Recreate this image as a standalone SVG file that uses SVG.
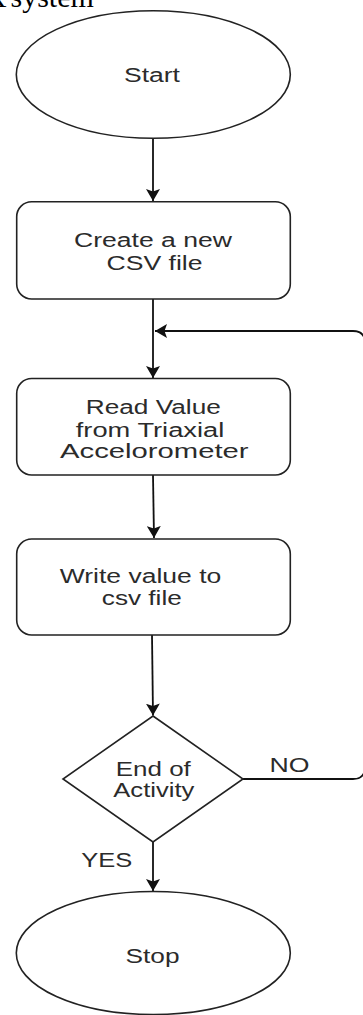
<svg xmlns="http://www.w3.org/2000/svg" width="363" height="1015" viewBox="0 0 363 1015">
<style>
.shape{fill:#ffffff;stroke:#222222;stroke-width:1.6}
.conn{fill:none;stroke:#111111;stroke-width:1.8}
.lbl{font-family:"Liberation Sans",Arial,sans-serif;font-size:20px;fill:#2b2b2b;text-anchor:middle}
.cap{font-family:"Liberation Serif","Times New Roman",serif;font-size:30px;fill:#000000}
</style>
<defs>
<marker id="arr" viewBox="0 0 12 14" refX="12" refY="7" markerWidth="12" markerHeight="14" markerUnits="userSpaceOnUse" orient="auto">
<path d="M0,0 L12,7 L0,14 L2.5,7 z" fill="#111111"/>
</marker>
</defs>
<rect width="363" height="1015" fill="#ffffff"/>
<text class="cap" y="7"><tspan x="-15">X</tspan><tspan x="10.5">system</tspan></text>
<g id="connectors">
<path class="conn" d="M153,138.5 V201" marker-end="url(#arr)"/>
<path class="conn" d="M153,299 V378" marker-end="url(#arr)"/>
<path class="conn" d="M153,475 L154,538" marker-end="url(#arr)"/>
<path class="conn" d="M152,635 L153,715.5" marker-end="url(#arr)"/>
<path class="conn" d="M153,842 V891" marker-end="url(#arr)"/>
<path class="conn" d="M243,779 H353 Q365,779 365,767 V343 Q365,331 353,331 H155" marker-end="url(#arr)"/>
<text class="lbl" x="289.5" y="771.5" font-size="21" textLength="40" lengthAdjust="spacingAndGlyphs">NO</text>
<text class="lbl" x="106.7" y="867.3" textLength="51" lengthAdjust="spacingAndGlyphs">YES</text>
</g>
<g id="start">
<ellipse class="shape" cx="153.3" cy="74.5" rx="137" ry="63.8"/>
<text class="lbl" x="152" y="82.3" font-size="22" textLength="56" lengthAdjust="spacingAndGlyphs">Start</text>
</g>
<g id="create">
<rect class="shape" x="16.7" y="201.7" width="273.6" height="97.3" rx="15" ry="15"/>
<text class="lbl" x="153" y="247.3" textLength="158" lengthAdjust="spacingAndGlyphs">Create a new</text>
<text class="lbl" x="154.5" y="270" textLength="96" lengthAdjust="spacingAndGlyphs">CSV file</text>
</g>
<g id="read">
<rect class="shape" x="16.7" y="378.5" width="273.6" height="96.5" rx="15" ry="15"/>
<text class="lbl" x="153.3" y="414" textLength="135" lengthAdjust="spacingAndGlyphs">Read Value</text>
<text class="lbl" x="150" y="436.7" textLength="148.5" lengthAdjust="spacingAndGlyphs">from Triaxial</text>
<text class="lbl" x="154.3" y="458.3" textLength="188.5" lengthAdjust="spacingAndGlyphs">Accelorometer</text>
</g>
<g id="write">
<rect class="shape" x="16.7" y="539" width="273.6" height="96" rx="15" ry="15"/>
<text class="lbl" x="140.5" y="583" textLength="161.5" lengthAdjust="spacingAndGlyphs">Write value to</text>
<text class="lbl" x="141.8" y="605" textLength="80" lengthAdjust="spacingAndGlyphs">csv file</text>
</g>
<g id="decision">
<polygon class="shape" points="153,716 243,779 153,842 63,779"/>
<text class="lbl" x="153.3" y="776" textLength="75" lengthAdjust="spacingAndGlyphs">End of</text>
<text class="lbl" x="153.8" y="797.3" textLength="81" lengthAdjust="spacingAndGlyphs">Activity</text>
</g>
<g id="stop">
<ellipse class="shape" cx="153.3" cy="953" rx="137" ry="61.5"/>
<text class="lbl" x="152.5" y="963.3" font-size="21" textLength="54" lengthAdjust="spacingAndGlyphs">Stop</text>
</g>
</svg>
